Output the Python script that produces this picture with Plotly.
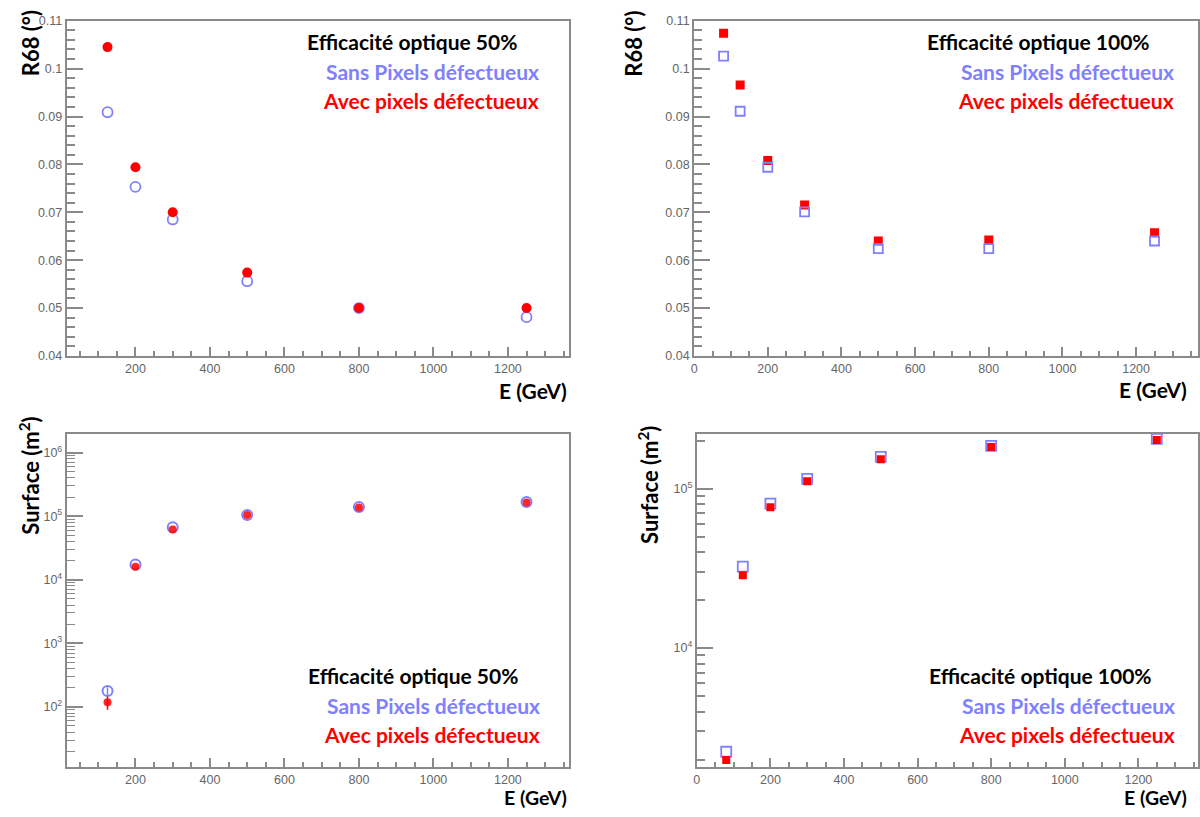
import plotly.graph_objects as go

# ---------------- data ----------------
E_50 = [125, 200, 300, 500, 800, 1250]
R68_50_sans = [0.0909, 0.0753, 0.0685, 0.0556, 0.0500, 0.0481]
R68_50_avec = [0.1045, 0.0794, 0.0700, 0.0574, 0.0500, 0.0500]

E_100 = [80, 125, 200, 300, 500, 800, 1250]
R68_100_sans = [0.1026, 0.0911, 0.0794, 0.0701, 0.0624, 0.0624, 0.0640]
R68_100_avec = [0.1074, 0.0966, 0.0808, 0.0715, 0.0640, 0.0642, 0.0657]

S_50_sans = [178, 17400, 67000, 104000, 140000, 167000]
S_50_avec = [118, 16000, 62000, 104000, 137000, 164000]
S_50_sans_err = [25, 0, 0, 0, 0, 0]
S_50_avec_err = [28, 0, 0, 0, 0, 0]

S_100_sans = [2240, 32400, 80500, 115000, 158000, 185000, 205000]
S_100_avec = [1990, 28600, 76400, 111000, 153000, 182000, 202000]

label_eff50 = "Efficacité optique 50%"
label_eff100 = "Efficacité optique 100%"
label_sans = "Sans Pixels défectueux"
label_avec = "Avec pixels défectueux"
ytitle_r68 = "R68 (°)"
ytitle_surf = "Surface (m<sup>2</sup>)"
xtitle = "E (GeV)"

BLUE = "#8080ff"
RED = "#ff0000"
GREY = "#8a8a8a"
TICKFONT = dict(family="Liberation Sans, Arial", size=12.5, color="#666666")
TXTFONT = "Lato, Carlito, Calibri, sans-serif"

W, H = 1200, 817

fig = go.Figure()

def px_x(p):
    return p / W

def px_y(p):
    return 1 - p / H

# top-left
fig.add_trace(go.Scatter(x=E_50, y=R68_50_sans, mode="markers", xaxis="x", yaxis="y",
                         marker=dict(symbol="circle-open", size=10, color=BLUE, line=dict(width=1.8, color=BLUE)),
                         showlegend=False))
fig.add_trace(go.Scatter(x=E_50, y=R68_50_avec, mode="markers", xaxis="x", yaxis="y",
                         marker=dict(symbol="circle", size=10, color=RED), showlegend=False))
# top-right
fig.add_trace(go.Scatter(x=E_100, y=R68_100_avec, mode="markers", xaxis="x2", yaxis="y2",
                         marker=dict(symbol="square", size=9, color=RED), showlegend=False))
fig.add_trace(go.Scatter(x=E_100, y=R68_100_sans, mode="markers", xaxis="x2", yaxis="y2",
                         marker=dict(symbol="square-open", size=9, color=BLUE, line=dict(width=1.8, color=BLUE)),
                         showlegend=False))
# bottom-left
fig.add_trace(go.Scatter(x=E_50, y=S_50_sans, mode="markers", xaxis="x3", yaxis="y3",
                         error_y=dict(type="data", array=S_50_sans_err, color=BLUE, thickness=1.5, width=0),
                         marker=dict(symbol="circle-open", size=10, color=BLUE, line=dict(width=2, color=BLUE)),
                         showlegend=False))
fig.add_trace(go.Scatter(x=E_50, y=S_50_avec, mode="markers", xaxis="x3", yaxis="y3",
                         error_y=dict(type="data", array=S_50_avec_err, color=RED, thickness=1.5, width=0),
                         marker=dict(symbol="circle", size=8, color=RED, opacity=0.85), showlegend=False))
# bottom-right
fig.add_trace(go.Scatter(x=E_100, y=S_100_sans, mode="markers", xaxis="x4", yaxis="y4",
                         marker=dict(symbol="square-open", size=10, color=BLUE, line=dict(width=1.8, color=BLUE)),
                         showlegend=False))
fig.add_trace(go.Scatter(x=E_100, y=S_100_avec, mode="markers", xaxis="x4", yaxis="y4",
                         marker=dict(symbol="square", size=8, color=RED), showlegend=False))

common_axis = dict(showline=True, linecolor=GREY, linewidth=2, mirror=True, showgrid=False,
                   zeroline=False, ticks="inside", tickcolor=GREY, tickwidth=1.5, tickfont=TICKFONT)

xlin = dict(common_axis, dtick=200, tick0=0, ticklen=9,
            minor=dict(ticks="inside", dtick=50, tick0=0, ticklen=5, tickcolor=GREY, tickwidth=1.5))
ylin = dict(common_axis, dtick=0.01, tick0=0, ticklen=16, range=[0.04, 0.11],
            minor=dict(ticks="inside", dtick=0.002, tick0=0, ticklen=8, tickcolor=GREY, tickwidth=1.5))

dec_bl = [1e2, 1e3, 1e4, 1e5, 1e6]
minor_bl = [m * d for d in [10, 100, 1000, 10000, 100000, 1000000] for m in range(2, 10)]
dec_br = [1e4, 1e5]
minor_br = [m * d for d in [1000, 10000, 100000] for m in range(2, 10)]

fig.update_layout(
    width=W, height=817, margin=dict(l=0, r=0, t=0, b=0),
    paper_bgcolor="white", plot_bgcolor="white",
    xaxis=dict(xlin, domain=[px_x(64), px_x(568)], range=[15.5, 1363], anchor="y"),
    yaxis=dict(ylin, domain=[px_y(355), px_y(14)], anchor="x"),
    xaxis2=dict(xlin, domain=[px_x(694), 1.0], range=[0, 1368], anchor="y2"),
    yaxis2=dict(ylin, domain=[px_y(355), px_y(14)], anchor="x2"),
    xaxis3=dict(xlin, domain=[px_x(64), px_x(568)], range=[15.5, 1363], anchor="y3"),
    yaxis3=dict(common_axis, type="log", domain=[px_y(773.5), px_y(434)], range=[1.05, 6.3], anchor="x3",
                tickvals=dec_bl, ticktext=["10<sup>%d</sup>" % k for k in range(2, 7)], ticklen=16,
                minor=dict(ticks="inside", tickvals=minor_bl, ticklen=8, tickcolor=GREY, tickwidth=1.2)),
    xaxis4=dict(xlin, domain=[px_x(696.7), 1.0], range=[0, 1362], anchor="y4"),
    yaxis4=dict(common_axis, type="log", domain=[px_y(773.5), px_y(434)], range=[3.253, 5.345], anchor="x4",
                tickvals=dec_br, ticktext=["10<sup>4</sup>", "10<sup>5</sup>"], ticklen=16,
                minor=dict(ticks="inside", tickvals=minor_br, ticklen=8, tickcolor=GREY, tickwidth=1.5)),
)

anns = []

def txt(text, x, y, color, size=21, xanchor="right", angle=0, yanchor="middle"):
    anns.append(dict(text="<b>%s</b>" % text, x=px_x(x), y=px_y(y), xref="paper", yref="paper",
                     xanchor=xanchor, yanchor=yanchor, showarrow=False, textangle=angle, borderpad=0,
                     font=dict(family=TXTFONT, size=size, color=color)))

# legend-like texts
for (x1, x2, y0, lab) in [(517, 539, 35, label_eff50), (1153, 1177, 35, label_eff100),
                          (518, 540, 680, label_eff50), (1155, 1178, 680, label_eff100)]:
    txt(lab, x1, y0, "black")
    txt(label_sans, x2, y0 + 31, BLUE)
    txt(label_avec, x2, y0 + 60, RED)

# axis titles
txt(xtitle, 567, 390, "black", size=21)
txt(xtitle, 1190, 389, "black", size=21)
txt(xtitle, 567, 817, "black", size=19.5, yanchor="bottom")
txt(xtitle, 1190, 817, "black", size=19.5, yanchor="bottom")
txt(ytitle_r68, 27, 37, "black", size=22, xanchor="center", angle=-90)
txt(ytitle_r68, 633, 37, "black", size=22, xanchor="center", angle=-90)
txt(ytitle_surf, 27, 477, "black", size=22, xanchor="center", angle=-90)
txt(ytitle_surf, 648, 486, "black", size=22, xanchor="center", angle=-90)

fig.update_layout(annotations=anns)

fig.write_html("out.html", config={"displayModeBar": False},
               post_script="document.body.style.margin='0';document.body.style.overflow='hidden';")
